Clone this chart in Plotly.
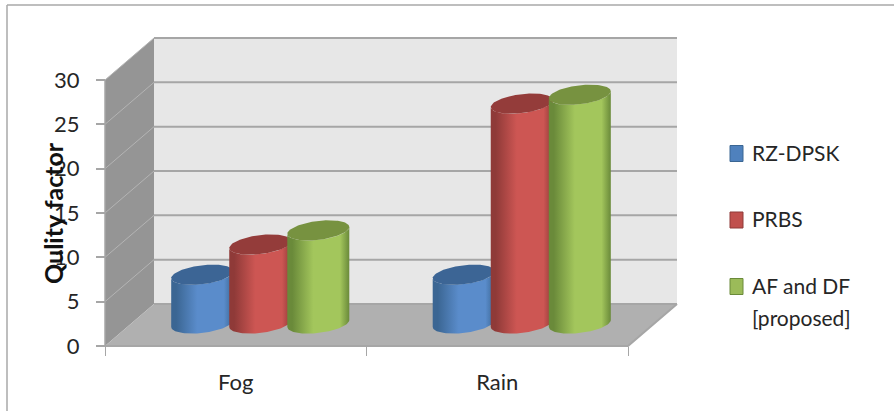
import numpy as np
import plotly.graph_objects as go

# Chart values
categories = ["Fog", "Rain"]
series_names = ["RZ-DPSK", "PRBS", "AF and DF<br>[proposed]"]
rz_dpsk = [5.5, 5.5]
prbs = [8.9, 24.8]
af_df = [10.5, 25.8]
value_ticks = [0, 5, 10, 15, 20, 25, 30]

W, H = 894, 411
X0, X_PER_CAT = 105, 261.5      # pixel of x=0 and pixels per category
Y0, Y_PER_UNIT = 346, 266 / 30  # pixel of y=0 and pixels per value unit
DX, DY = 49 / X_PER_CAT, 42 / Y_PER_UNIT  # oblique depth of the chart box
VMAX = value_ticks[-1]
N = len(categories)
FONT = "Lato, Carlito, sans-serif"
TEXT = "#262626"

palette = [
    dict(edge="#3b6693", mid="#5a8ccb", top="#3c6595", key="#4f81bd"),
    dict(edge="#8f3a38", mid="#cd5653", top="#943c3a", key="#c0504d"),
    dict(edge="#6a8a3a", mid="#a3c65c", top="#779240", key="#9bbb59"),
]

fig = go.Figure()


def poly(xs, ys, fill):
    fig.add_trace(go.Scatter(
        x=xs, y=ys, mode="lines", fill="toself", fillcolor=fill,
        line=dict(color=fill, width=0), showlegend=False, hoverinfo="skip",
    ))


def seg(xs, ys, color, width):
    fig.add_trace(go.Scatter(
        x=xs, y=ys, mode="lines", line=dict(color=color, width=width),
        showlegend=False, hoverinfo="skip",
    ))


# Chart box: side wall, back wall, floor
poly([0, DX, DX, 0, 0], [0, DY, VMAX + DY, VMAX, 0], "#959595")
poly([DX, N + DX, N + DX, DX, DX], [DY, DY, VMAX + DY, VMAX + DY, DY], "#e7e7e7")
poly([0, N, N + DX, DX, 0], [0, 0, DY, DY, 0], "#b0b0b0")

# Gridlines wrap from the side wall onto the back wall
for v in value_ticks:
    if v > 0:
        seg([0, DX], [v, v + DY], "#b4b4b4", 1)
    seg([DX, N + DX], [v + DY, v + DY], "#a6a6a6", 2)
seg([0, 0], [0, VMAX], "#a6a6a6", 1.5)
seg([0, N, N + DX], [0, 0, DY], "#a6a6a6", 2)

# Cylinders, drawn left to right so that each overlaps its left neighbour
RX, RY, SHEAR = 31 / X_PER_CAT, 9.5 / Y_PER_UNIT, 3.5 / Y_PER_UNIT
GROUP_OFFSET = 0.222
BASE_LIFT = 1.5 / Y_PER_UNIT
t_low = np.linspace(np.pi, 2 * np.pi, 50)
t_all = np.linspace(0, 2 * np.pi, 100)

for c in range(N):
    for s, vals in enumerate([rz_dpsk, prbs, af_df]):
        cx = c + 0.5 + (s - 1) * GROUP_OFFSET + DX / 2
        base = DY / 2 + BASE_LIFT
        top = base + vals[c]
        low_x = cx + RX * np.cos(t_low)
        low_y = RY * np.sin(t_low) + SHEAR * np.cos(t_low)
        col = palette[s]
        fig.add_trace(go.Scatter(
            x=np.concatenate([low_x, low_x[::-1], low_x[:1]]),
            y=np.concatenate([base + low_y, top + low_y[::-1], base + low_y[:1]]),
            mode="lines", fill="toself", line=dict(width=0),
            fillgradient=dict(
                type="horizontal",
                colorscale=[[0, col["edge"]], [0.08, col["edge"]], [0.42, col["mid"]],
                            [0.85, col["mid"]], [1, col["edge"]]],
            ),
            showlegend=False, hoverinfo="skip",
        ))
        poly(cx + RX * np.cos(t_all),
             top + RY * np.sin(t_all) + SHEAR * np.cos(t_all), col["top"])

# Tick marks at the category boundaries, on an axis of their own
fig.add_trace(go.Scatter(x=[None], y=[None], xaxis="x2", showlegend=False, hoverinfo="skip"))

# Legend column: tall key swatches with labels set close beside them
annotations = [dict(
    text="<b>Qulity factor</b>", xref="paper", yref="paper",
    x=53 / W, y=1 - 213 / H, xanchor="center", yanchor="middle", textangle=-90, showarrow=False,
    font=dict(family=FONT, size=25, color="#111111"),
)]
shapes = [
    dict(type="line", xref="paper", yref="paper", x0=7 / W, x1=1, y0=1 - 5 / H, y1=1 - 5 / H,
         line=dict(color="#a9a9a9", width=1.5)),
    dict(type="line", xref="paper", yref="paper", x0=7 / W, x1=7 / W, y0=0, y1=1 - 5 / H,
         line=dict(color="#a9a9a9", width=1.5)),
]
KEY_L, KEY_R, KEY_H, LABEL_X, ROW_STEP, FIRST_ROW, LINE_STEP = 730, 743, 16, 750, 66.5, 153.5, 32
for i, (name, col) in enumerate(zip(series_names, palette)):
    yc = FIRST_ROW + i * ROW_STEP
    shapes.append(dict(
        type="rect", xref="paper", yref="paper",
        x0=KEY_L / W, x1=KEY_R / W, y0=1 - (yc - KEY_H / 2) / H, y1=1 - (yc + KEY_H / 2) / H,
        fillcolor=col["key"], line=dict(color=col["edge"], width=1),
    ))
    for j, part in enumerate(name.split("<br>")):
        annotations.append(dict(
            text=part, xref="paper", yref="paper", x=LABEL_X / W, y=1 - (yc - 1.5 + j * LINE_STEP) / H,
            xanchor="left", yanchor="middle", showarrow=False,
            font=dict(family=FONT, size=21, color=TEXT),
        ))

x_range = [-X0 / X_PER_CAT, (W - X0) / X_PER_CAT]
y_range = [-(H - Y0) / Y_PER_UNIT, Y0 / Y_PER_UNIT]

fig.update_layout(
    width=W, height=H, margin=dict(l=0, r=0, t=0, b=0),
    paper_bgcolor="white", plot_bgcolor="white", showlegend=False,
    font=dict(family=FONT, color=TEXT),
    xaxis=dict(
        range=x_range, domain=[0, 1], anchor="free", position=(H - Y0) / H,
        tickvals=[i + 0.5 for i in range(N)], ticktext=categories, ticks="",
        ticklabelstandoff=21, tickfont=dict(family=FONT, size=22, color=TEXT),
        showgrid=False, zeroline=False, showline=False, fixedrange=True,
    ),
    xaxis2=dict(
        range=x_range, domain=[0, 1], anchor="free", position=(H - Y0) / H, overlaying="x",
        tickvals=list(range(N + 1)), showticklabels=False, ticks="outside", ticklen=9,
        tickcolor="#a6a6a6", tickwidth=1, showgrid=False, zeroline=False, showline=False,
    ),
    yaxis=dict(
        range=y_range, domain=[0, 1], anchor="free", position=X0 / W,
        tickvals=value_ticks, ticks="outside", ticklen=9, tickcolor="#a6a6a6", tickwidth=1.5,
        ticklabelstandoff=12, tickfont=dict(family=FONT, size=22, color=TEXT),
        showgrid=False, zeroline=False, showline=False, fixedrange=True,
    ),
    annotations=annotations,
    shapes=shapes,
)

fig.write_html("out.html")
